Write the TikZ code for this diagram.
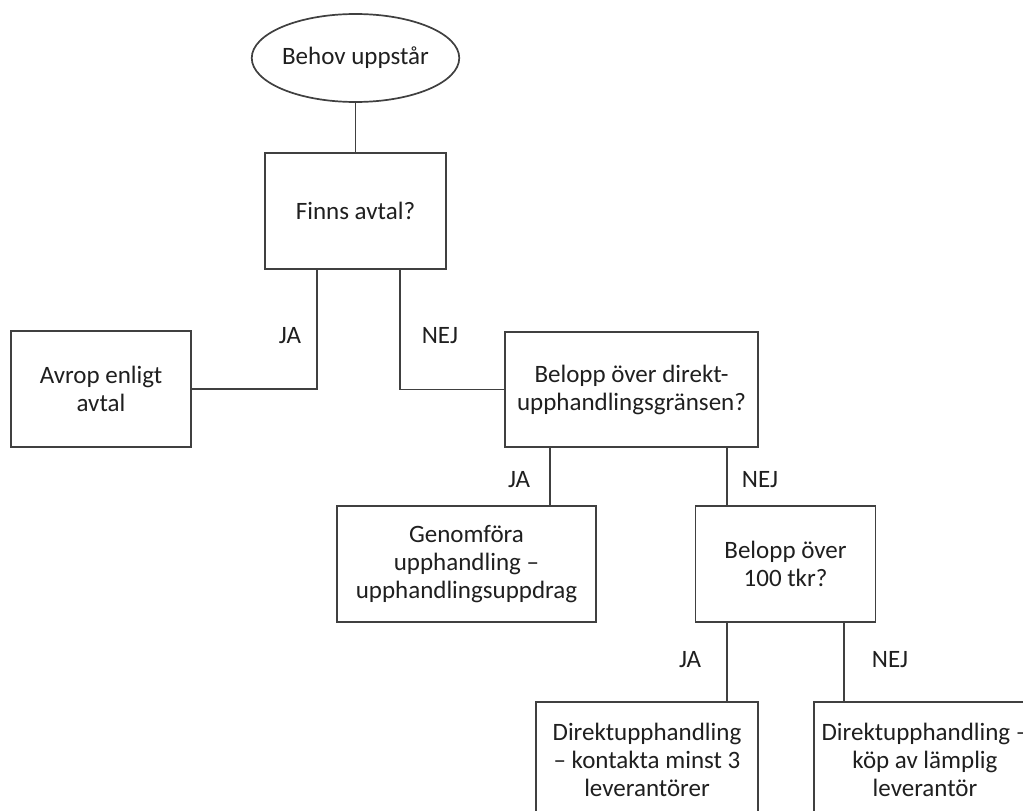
\documentclass[tikz,border=0pt]{standalone}
\usepackage{fontspec}
\setmainfont{Carlito}
\usetikzlibrary{shapes.geometric}
\tikzset{
  box/.style={draw=black!75, line width=1.7pt, rectangle, inner sep=0pt, align=center,
    text=black!88, font=\fontsize{25}{28}\selectfont},
  oval/.style={draw=black!75, line width=1.7pt, ellipse, inner sep=0pt, align=center,
    minimum width=181pt, minimum height=88pt, text=black!88, font=\fontsize{25}{28}\selectfont},
  conn/.style={draw=black!75, line width=1.7pt},
  lbl/.style={inner sep=0pt, text=black!88, font=\fontsize{25}{28}\selectfont}
}
\begin{document}
\begin{tikzpicture}[x=1pt,y=-1pt]
\useasboundingbox (0,0) rectangle (1023,811);
\clip (0,0) rectangle (1023,811);
\fill[white] (0,0) rectangle (1023,811);
\node[oval] (ell) at (355.5,58) {Behov uppstår};
\node[box, minimum width=181pt, minimum height=116pt] (finns) at (355.5,211) {Finns avtal?};
\node[box, minimum width=180pt, minimum height=116pt] (avrop) at (101,389) {Avrop enligt\\avtal};
\node[box, minimum width=253pt, minimum height=115pt] (bel1) at (631.5,389.5) {Belopp över direkt-\\upphandlingsgränsen?};
\node[box, minimum width=259pt, minimum height=116pt] (gen) at (466.5,564) {Genomföra\\upphandling –\\upphandlingsuppdrag};
\node[box, minimum width=180pt, minimum height=116pt] (bel2) at (785.5,564) {Belopp över\\100 tkr?};
\node[box, minimum width=222pt, minimum height=116pt] (d1) at (647,760) {Direktupphandling\\– kontakta minst 3\\leverantörer};
\node[box, minimum width=222pt, minimum height=116pt] (d2) at (925,760) {Direktupphandling –\\köp av lämplig\\leverantör};

\node[lbl] (ja1) at (290,336) {JA};
\node[lbl] (nej1) at (440,336) {NEJ};
\node[lbl] (ja2) at (519,480) {JA};
\node[lbl] (nej2) at (760,480) {NEJ};
\node[lbl] (ja3) at (690,660) {JA};
\node[lbl] (nej3) at (890,660) {NEJ};

\draw[conn] (ell.south) -- (finns.north);
\draw[conn] ([xshift=-38.5pt]finns.south) |- (avrop.east);
\draw[conn] ([xshift=44.5pt]finns.south) |- (bel1.west);
\draw[conn] ([xshift=83.5pt]gen.north) -- ([xshift=83.5pt]gen.north |- bel1.south);
\draw[conn] ([xshift=-58.5pt]bel2.north) -- ([xshift=-58.5pt]bel2.north |- bel1.south);
\draw[conn] ([xshift=80pt]d1.north) -- ([xshift=80pt]d1.north |- bel2.south);
\draw[conn] ([xshift=-81pt]d2.north) -- ([xshift=-81pt]d2.north |- bel2.south);
\end{tikzpicture}
\end{document}
